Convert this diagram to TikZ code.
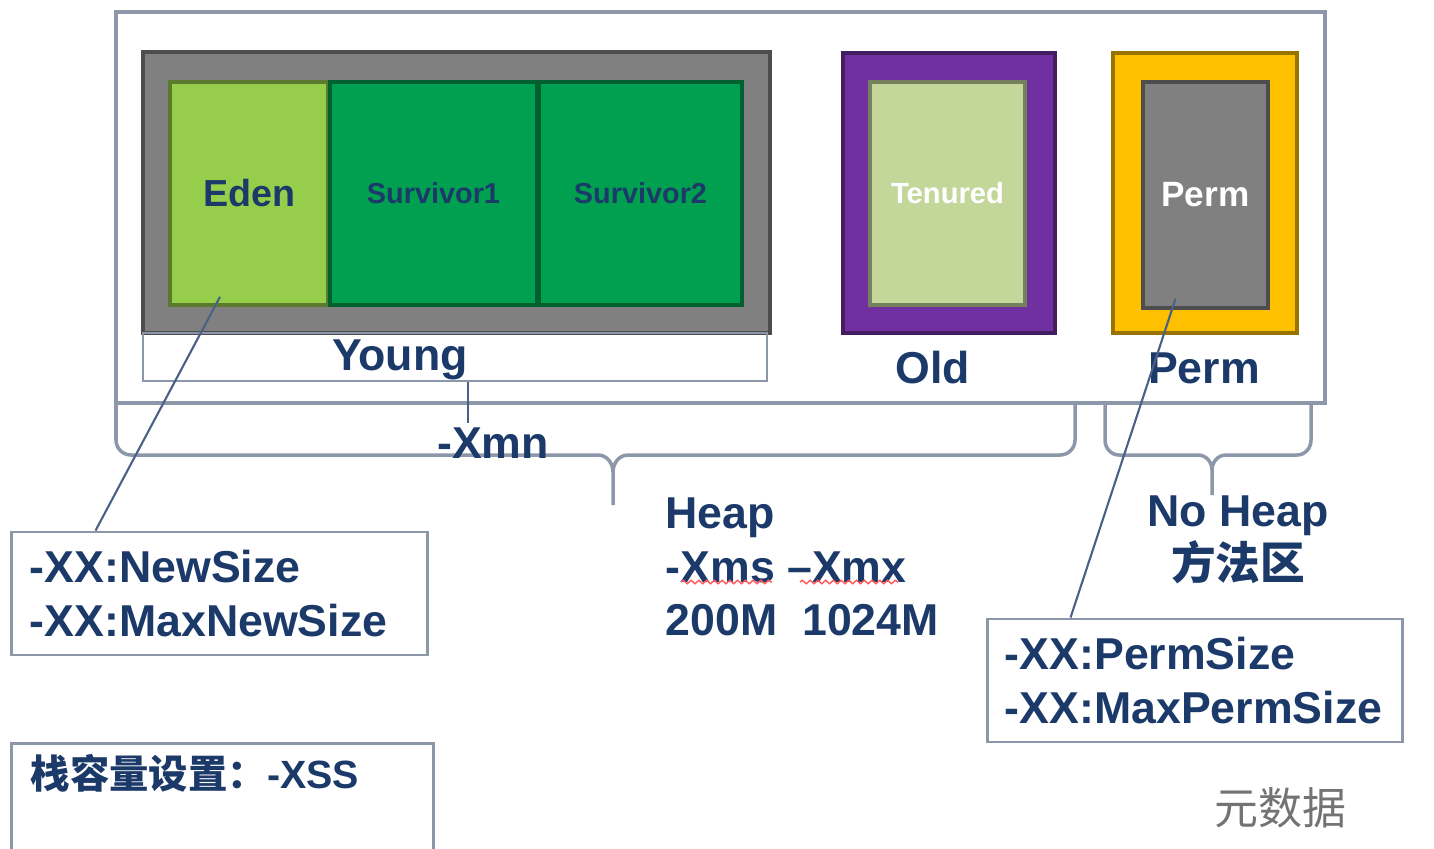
\documentclass[tikz,border=0pt]{standalone}
\usepackage{fontspec}
\setmainfont{Liberation Sans}
\newfontfamily\cjk{Noto Sans CJK SC}
\usepackage{tikz}
\usetikzlibrary{decorations.pathmorphing}

\definecolor{navytext}{RGB}{28,58,105}
\definecolor{linegray}{RGB}{140,152,170}
\definecolor{younggray}{RGB}{128,128,128}
\definecolor{edengreen}{RGB}{150,205,75}
\definecolor{survgreen}{RGB}{0,160,80}
\definecolor{oldpurple}{RGB}{112,48,160}
\definecolor{tenuredgreen}{RGB}{195,215,155}
\definecolor{permgold}{RGB}{255,192,0}

\begin{document}
\begin{tikzpicture}[x=0.01cm, y=-0.01cm,
	frame/.style={draw=#1!60!black, fill=#1, line width=1pt, inner sep=0pt},
	big/.style={text=navytext, font=\fontsize{12.7}{15.2}\selectfont\bfseries, inner sep=0pt},
	optbox/.style={draw=linegray, line width=0.8pt, fill=white, align=left, big},
	brace/.style={draw=linegray, line width=1pt},
	pointer/.style={draw=navytext!80, line width=0.6pt},
	wavy/.style={draw=red!65, line width=0.4pt, decorate, decoration={snake, amplitude=0.5pt, segment length=2.2pt}}]
	\useasboundingbox (0,0) rectangle (1434,848);
	\node[draw=linegray, line width=1.2pt, fill=white, minimum width=12.09cm, minimum height=3.91cm] (outer) at (720.5,207.5) {};
	% young generation
	\node[frame=younggray, minimum width=6.27cm, minimum height=2.81cm] (youngframe) at (456.5,192.5) {};
	\node[frame=edengreen, minimum width=1.58cm, minimum height=2.23cm, text=navytext, font=\fontsize{10.7}{12}\selectfont\bfseries] (eden) at (249,193.5) {Eden};
	\node[frame=survgreen, minimum width=2.07cm, minimum height=2.23cm, text=navytext, font=\fontsize{8.2}{10}\selectfont\bfseries] (surv1) at (433.5,193.5) {Survivor1};
	\node[frame=survgreen, minimum width=2.03cm, minimum height=2.23cm, text=navytext, font=\fontsize{8.2}{10}\selectfont\bfseries] (surv2) at (640.5,193.5) {Survivor2};
	\node[draw=linegray, line width=0.6pt, minimum width=6.24cm, minimum height=0.48cm] (youngbox) at (455,357) {};
	\node[big] (young) at (400,360) {Young};
	% old generation
	\node[frame=oldpurple, minimum width=2.12cm, minimum height=2.80cm] (oldframe) at (949,193) {};
	\node[frame=tenuredgreen, minimum width=1.55cm, minimum height=2.23cm, text=white, font=\fontsize{8.3}{10}\selectfont\bfseries] (tenured) at (947.5,193.5) {Tenured};
	\node[big] (old) at (933,368) {Old};
	% permanent generation
	\node[frame=permgold, minimum width=1.84cm, minimum height=2.80cm] (permframe) at (1205,193) {};
	\node[frame=younggray, minimum width=1.25cm, minimum height=2.26cm, text=white, font=\fontsize{10}{12}\selectfont\bfseries] (perm) at (1205.5,195) {Perm};
	\node[big] (permlabel) at (1204,368) {Perm};
	% braces
	\draw[brace] (116,405) -- (116,440) to[out=-90,in=180] (131,455) -- (598,455) to[out=0,in=90] (613,472) -- (613,505)
		(613,472) to[out=90,in=180] (628,455) -- (1060,455) to[out=0,in=-90] (1075,440) -- (1075,405);
	\draw[brace] (1105,405) -- (1105,440) to[out=-90,in=180] (1119,455) -- (1198,455) to[out=0,in=90] (1212,470) -- (1212,495)
		(1212,470) to[out=90,in=180] (1226,455) -- (1297,455) to[out=0,in=-90] (1311,440) -- (1311,405);
	\node[big] (xmn) at (493,443) {-Xmn};
	\draw[pointer] ([xshift=0.13cm]youngbox.south) -- ++(0,41);
	% heap text
	\node[big, anchor=west, align=left] (heap) at (665,567) {Heap\\-Xms –Xmx\\200M\ \ 1024M};
	\draw[wavy] (681,582) -- (772,582);
	\draw[wavy] (800,582) -- (898,582);
	\node[big, align=center] (noheap) at (1238,540) {No Heap\\{\cjk\bfseries 方法区}};
	% option boxes
	\node[optbox, minimum height=1.23cm, text width=3.79cm, inner xsep=0.18cm] (newsize) at (219.5,593.5) {-XX:NewSize\\-XX:MaxNewSize};
	\node[optbox, minimum height=1.23cm, text width=3.80cm, inner xsep=0.17cm] (permsize) at (1195,680.5) {-XX:PermSize\\-XX:MaxPermSize};
	\node[optbox, anchor=north, minimum width=4.21cm, minimum height=1.25cm] (xssbox) at (222.5,742) {};
	\node[big, anchor=west, font=\fontsize{11.2}{14}\selectfont\bfseries] (xss) at (30,773) {{\cjk 栈容量设置：}-XSS};
	\node[text=black!55, font=\cjk\fontsize{12.5}{14}\selectfont] (meta) at (1280,808) {元数据};
	% pointers
	\draw[pointer] ([xshift=-0.29cm,yshift=0.1cm]eden.south) -- ([xshift=0.85cm]newsize.north west);
	\draw[pointer] ([xshift=-0.3cm,yshift=0.11cm]perm.south) -- ([xshift=0.84cm]permsize.north west);
\end{tikzpicture}
\end{document}
